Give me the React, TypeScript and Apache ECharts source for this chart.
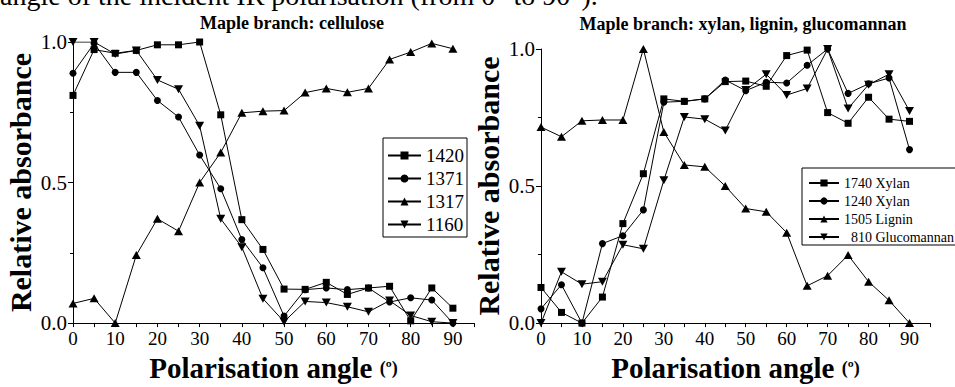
import React, { useEffect, useRef } from 'react';
import * as echarts from 'echarts';

const angles = [0, 5, 10, 15, 20, 25, 30, 35, 40, 45, 50, 55, 60, 65, 70, 75, 80, 85, 90];

// Left panel: cellulose bands
const c1420 = [0.81, 0.973, 0.96, 0.97, 0.99, 0.99, 1.0, 0.741, 0.368, 0.262, 0.121, 0.12, 0.145, 0.102, 0.125, 0.131, 0.008, 0.125, 0.053];
const c1371 = [0.889, 0.995, 0.892, 0.892, 0.792, 0.733, 0.598, 0.478, 0.297, 0.197, 0.025, 0.119, 0.125, 0.119, 0.125, 0.075, 0.09, 0.082, 0.0];
const c1317 = [0.07, 0.088, 0.0, 0.242, 0.371, 0.327, 0.5, 0.607, 0.748, 0.754, 0.756, 0.82, 0.835, 0.821, 0.835, 0.938, 0.964, 0.995, 0.976];
const c1160 = [1.0, 1.0, 0.957, 0.97, 0.865, 0.832, 0.702, 0.371, 0.27, 0.087, 0.005, 0.077, 0.073, 0.058, 0.04, 0.08, 0.027, 0.005, 0.0];

// Right panel: xylan, lignin, glucomannan bands
const x1740 = [0.13, 0.039, 0.0, 0.095, 0.363, 0.545, 0.818, 0.809, 0.818, 0.881, 0.883, 0.864, 0.976, 0.996, 0.768, 0.729, 0.824, 0.744, 0.736];
const x1240 = [0.052, 0.14, 0.0, 0.29, 0.319, 0.413, 0.806, 0.809, 0.818, 0.887, 0.848, 0.879, 0.876, 0.941, 1.0, 0.838, 0.873, 0.894, 0.633];
const l1505 = [0.715, 0.68, 0.738, 0.741, 0.741, 1.0, 0.697, 0.577, 0.57, 0.5, 0.418, 0.406, 0.33, 0.136, 0.173, 0.248, 0.151, 0.083, 0.0];
const g810 = [0.0, 0.187, 0.142, 0.151, 0.286, 0.271, 0.521, 0.752, 0.744, 0.703, 0.85, 0.908, 0.832, 0.856, 1.0, 0.783, 0.87, 0.908, 0.774];

const leftNames = ['1420', '1371', '1317', '1160'];
const rightNames = ['1740 Xylan', '1240 Xylan', '1505 Lignin', '810 Glucomannan'];
const yTicks = [0, 0.5, 1.0];
const xTickLabels = [0, 10, 20, 30, 40, 50, 60, 70, 80, 90];

const FONT = 'Liberation Serif, Times New Roman, serif';
const DOWN_TRI = 'path://M0,0L10,0L5,9Z';
const symbols: [string, number | number[]][] = [
  ['rect', 7],
  ['circle', 7],
  ['triangle', [9, 8]],
  [DOWN_TRI, [9, 8]],
];

function makeSeries(name: string, vals: number[], idx: number, k: number) {
  return {
    type: 'line',
    name,
    xAxisIndex: idx,
    yAxisIndex: idx,
    data: angles.map((a, i) => [a, vals[i]]),
    symbol: symbols[k][0],
    symbolSize: symbols[k][1],
    showSymbol: true,
    lineStyle: { color: '#000', width: 1 },
    itemStyle: { color: '#000' },
    emphasis: { disabled: true },
    z: 3,
  };
}

function xAxis(idx: number) {
  return {
    type: 'value',
    gridIndex: idx,
    min: 0,
    max: 95,
    interval: 5,
    axisLine: { show: true, onZero: false, lineStyle: { color: '#000', width: 1 } },
    axisTick: { show: true, inside: false, length: 4, lineStyle: { color: '#000', width: 1 } },
    axisLabel: {
      color: '#000',
      fontFamily: FONT,
      fontSize: 19,
      margin: 6,
      formatter: (v: number) => (xTickLabels.indexOf(v) >= 0 ? String(v) : ''),
    },
    splitLine: { show: false },
    name: '{b|Polarisation angle }{s|(º)}',
    nameLocation: 'middle',
    nameGap: 23,
    nameTextStyle: {
      rich: {
        b: { fontFamily: FONT, fontWeight: 'bold', fontSize: 29, color: '#000' },
        s: { fontFamily: FONT, fontWeight: 'bold', fontSize: 18, color: '#000' },
      },
    },
  };
}

function yAxis(idx: number) {
  return {
    type: 'value',
    gridIndex: idx,
    min: 0,
    max: 1,
    interval: 0.5,
    axisLine: { show: true, onZero: false, lineStyle: { color: '#000', width: 1 } },
    axisTick: { show: true, inside: false, length: 5, lineStyle: { color: '#000', width: 1 } },
    minorTick: { show: true, splitNumber: 2, length: 3, lineStyle: { color: '#000', width: 1 } },
    axisLabel: {
      color: '#000',
      fontFamily: FONT,
      fontSize: 21,
      margin: 6,
      formatter: (v: number) => (yTicks.indexOf(v) >= 0 ? v.toFixed(1) : ''),
    },
    splitLine: { show: false },
    minorSplitLine: { show: false },
    name: 'Relative absorbance',
    nameLocation: 'middle',
    nameGap: 38,
    nameTextStyle: { fontFamily: FONT, fontWeight: 'bold', fontSize: 30, color: '#000' },
  };
}

export default function App() {
  const ref = useRef<HTMLDivElement>(null);
  useEffect(() => {
    if (!ref.current) return;
    const chart = echarts.init(ref.current, undefined, { renderer: 'svg' });
    const leftData = [c1420, c1371, c1317, c1160];
    const rightData = [x1740, x1240, l1505, g810];
    const option: any = {
      animation: false,
      backgroundColor: '#fff',
      textStyle: { fontFamily: FONT },
      grid: [
        { left: 73, top: 42, width: 401, height: 291 },
        { left: 541, top: 49, width: 389, height: 284 },
      ],
      xAxis: [xAxis(0), xAxis(1)],
      yAxis: [yAxis(0), yAxis(1)],
      legend: [
        {
          data: leftNames,
          orient: 'vertical',
          left: 383,
          top: 138,
          itemWidth: 33,
          itemHeight: 10,
          itemGap: 4,
          padding: [8, 3, 3, 4],
          borderColor: '#000',
          borderWidth: 1,
          selectedMode: false,
          textStyle: { fontFamily: FONT, fontSize: 19, color: '#000' },
        },
        {
          data: rightNames,
          orient: 'vertical',
          left: 802,
          top: 168,
          itemWidth: 30,
          itemHeight: 9,
          itemGap: 4,
          padding: [8, 6, 1, 6],
          borderColor: '#000',
          borderWidth: 1,
          selectedMode: false,
          textStyle: { fontFamily: FONT, fontSize: 14, color: '#000' },
          formatter: (n: string) => (n === '810 Glucomannan' ? '\u2007' + n : n),
        },
      ],
      graphic: [
        {
          type: 'text',
          x: 0,
          y: -5,
          style: {
            text: 'angle of the incident IR polarisation (from 0° to 90°).',
            font: `normal 28px ${FONT}`,
            fill: '#000',
            verticalAlign: 'middle',
            align: 'left',
          },
        },
        {
          type: 'text',
          x: 292,
          y: 23,
          style: {
            text: 'Maple branch: cellulose',
            font: `bold 18px ${FONT}`,
            fill: '#000',
            align: 'center',
            verticalAlign: 'middle',
          },
        },
        {
          type: 'text',
          x: 743,
          y: 24,
          style: {
            text: 'Maple branch: xylan, lignin, glucomannan',
            font: `bold 18px ${FONT}`,
            fill: '#000',
            align: 'center',
            verticalAlign: 'middle',
          },
        },
      ],
      series: [
        ...leftNames.map((n, k) => makeSeries(n, leftData[k], 0, k)),
        ...rightNames.map((n, k) => makeSeries(n, rightData[k], 1, k)),
      ],
    };
    chart.setOption(option);
    return () => chart.dispose();
  }, []);
  return (
    <div
      ref={ref}
      style={{ position: 'absolute', left: 0, top: 0, width: 955, height: 387 }}
    />
  );
}
